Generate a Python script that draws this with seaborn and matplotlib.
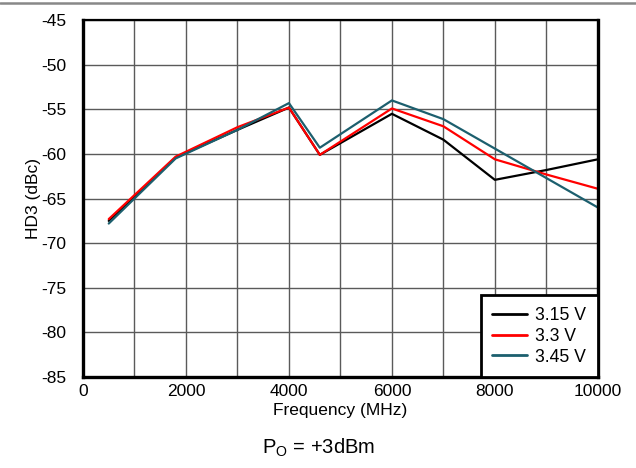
import pandas as pd
import matplotlib.pyplot as plt
import seaborn as sns
from matplotlib.lines import Line2D

# ----------------------------------------------------------
# Data
# ----------------------------------------------------------
freq_mhz = [500, 1800, 3000, 4000, 4600, 6000, 7000, 8000, 9000, 10000]
hd3_315 = [-67.5, -60.4, -57.3, -54.8, -60.1, -55.5, -58.4, -62.9, -61.8, -60.6]
hd3_330 = [-67.3, -60.3, -57.0, -54.8, -60.1, -54.9, -56.9, -60.6, -62.3, -63.9]
hd3_345 = [-67.8, -60.5, -57.3, -54.3, -59.3, -54.0, -56.1, -59.4, -62.7, -66.0]
series_names = ["3.15 V", "3.3 V", "3.45 V"]
colors = ["#000000", "#ff0000", "#1c5f6e"]

df = pd.DataFrame({
    "freq": freq_mhz * 3,
    "hd3": hd3_315 + hd3_330 + hd3_345,
    "supply": [n for n in series_names for _ in freq_mhz],
})

# ----------------------------------------------------------
# Plot
# ----------------------------------------------------------
sns.set_style("white")
plt.rcParams["font.family"] = ["Liberation Sans", "DejaVu Sans"]
plt.rcParams["axes.unicode_minus"] = False
plt.rcParams["text.color"] = "black"
plt.rcParams["axes.labelcolor"] = "black"
plt.rcParams["xtick.color"] = "black"
plt.rcParams["ytick.color"] = "black"

fig = plt.figure(figsize=(6.36, 4.68), dpi=100)
ax = fig.add_axes([0.1305, 0.1944, 0.8095, 0.7626])

sns.lineplot(
    data=df, x="freq", y="hd3", hue="supply",
    hue_order=series_names, palette=colors,
    linewidth=1.6, ax=ax
)

ax.set_xlim(0, 10000)
ax.set_ylim(-85, -45)
ax.set_xticks(range(0, 10001, 2000))
ax.set_xticks(range(0, 10001, 1000), minor=True)
ax.set_yticks(range(-85, -44, 5))
ax.grid(True, which="both", color="#5a5a5a", linewidth=1.0)
ax.set_axisbelow(True)
ax.tick_params(axis="both", which="both", length=0, labelsize=12.5)
ax.tick_params(axis="x", pad=5)
ax.tick_params(axis="y", pad=12)

for side, lw in [("left", 2.4), ("right", 2.4), ("bottom", 2.4), ("top", 1.6)]:
    ax.spines[side].set_visible(True)
    ax.spines[side].set_color("black")
    ax.spines[side].set_linewidth(lw)

ax.set_xlabel("Frequency (MHz)", fontsize=12.5, labelpad=3)
ax.set_ylabel("HD3 (dBc)", fontsize=12.5, labelpad=0)

leg = ax.legend(
    loc="lower right", borderaxespad=0, fancybox=False,
    edgecolor="black", fontsize=12.7, handlelength=2.0,
    labelspacing=0.22, borderpad=0.65, handletextpad=0.45, framealpha=1
)
leg.get_frame().set_linewidth(2.0)
for h in leg.get_lines():
    h.set_linewidth(2.0)

fig.text(0.5, 0.03, r"P$_\mathregular{O}$ = +3dBm", ha="center",
         fontsize=14.5)

# grey rule across the top of the figure
fig.add_artist(Line2D([0, 1], [0.994, 0.994], color="#888888", linewidth=1.8))

plt.savefig("out.png", dpi=100)
